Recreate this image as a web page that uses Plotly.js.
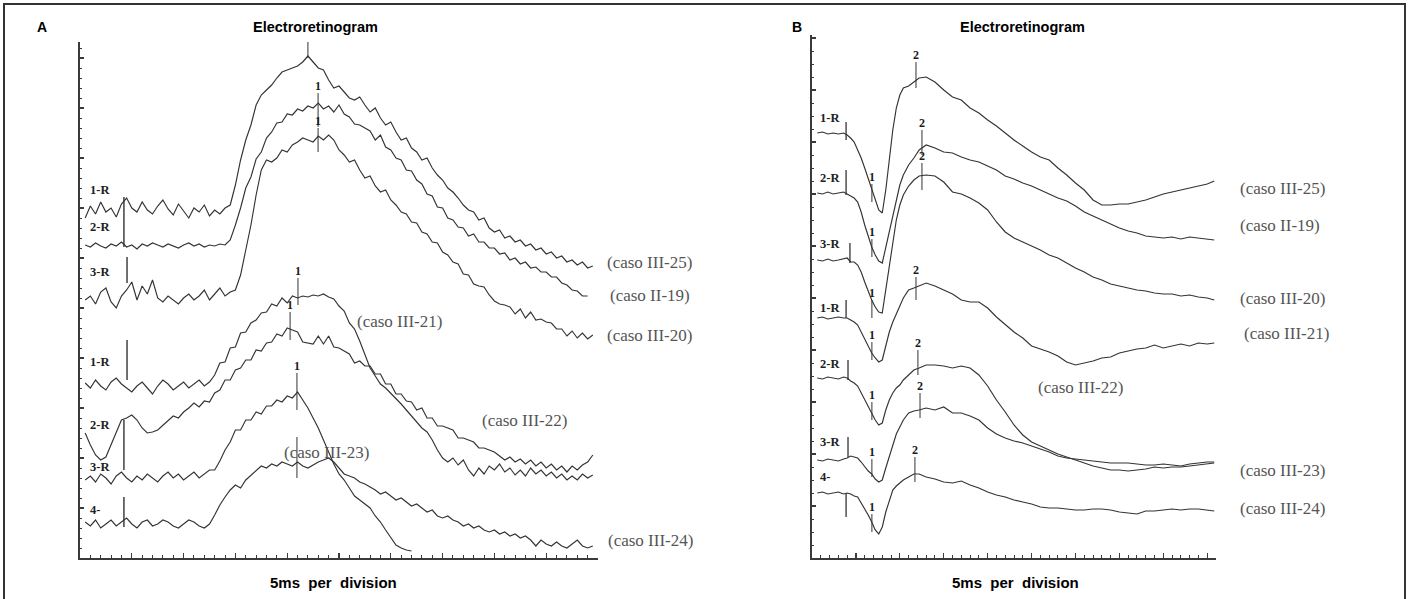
<!DOCTYPE html>
<html><head><meta charset="utf-8">
<script src="https://cdn.plot.ly/plotly-3.0.1.min.js"></script>
<style>html,body{margin:0;padding:0;background:#fff}#chart{width:1409px;height:599px}</style>
</head><body><div id="chart"></div>
<script>
// ---------- Panel A : time (ms), 5 ms per division ----------
const tA = [2.5,5,7.5,10,12.5,15,17.5,20,22.5,25,27.5,30,32.5,35,37.5,40,42.5,45,47.5,50,52.5,55,57.5,60,62.5,65,67.5,70,72.5,75,77.5,80,82.5,85,87.5,90,92.5,95,97.5,100,102.5,105,107.5,110,112.5,115,117.5,120,122.5,125,127.5,130,132.5,135,137.5,140,142.5,145,147.5,150,152.5,155,157.5,160,162.5,165,167.5,170,172.5,175,177.5,180,182.5,185,187.5,190,192.5,195,197.5,200,202.5,205,207.5,210,212.5,215,217.5,220,222.5,225,227.5,230,232.5,235,237.5,240,242.5,245,247.5];

const a_III25 = [340,352,344,356,346,350,341,354,360,350,346,356,348,344,352,358,349,343,354,347,340,350,346,353,342,348,344,350,
 353,373,398,418,433,453,463,468,473,480,486,488,490,492,496,502,496,490,488,478,470,472,466,460,458,461,453,446,450,440,433,436,426,418,420,410,406,398,400,390,383,378,370,366,360,353,348,346,338,340,330,326,328,320,322,316,318,312,314,308,310,304,306,300,302,296,298,293,296,290,292];
const a_II19 = [313,311,315,312,310,314,312,316,311,313,309,314,312,315,313,311,314,312,310,313,315,312,314,311,313,312,314,313,
 318,333,350,370,381,399,406,420,426,435,436,444,443,449,447,452,450,455,449,452,446,453,444,441,434,433,430,427,418,423,411,408,400,398,388,387,378,374,364,362,351,350,340,338,331,330,322,324,316,316,310,310,304,305,298,300,294,296,290,291,286,286,281,281,275,273,268,267,262,262];
const a_III20 = [258,262,254,266,270,256,250,262,268,276,258,272,264,278,260,256,262,258,254,260,264,258,262,268,258,264,270,262,266,268,
 283,308,333,363,388,398,396,400,408,406,413,416,420,418,416,422,418,423,418,408,403,396,398,388,380,382,372,366,368,358,353,346,344,336,335,326,324,316,315,306,303,296,294,284,283,274,272,271,263,257,254,253,251,244,249,240,246,238,239,236,235,229,229,222,227,220,225,219,223];
const a_III21 = [175,170,178,172,168,176,180,174,170,166,172,176,170,164,172,178,174,168,172,176,170,174,178,172,176,
 183,195,196,210,211,225,226,235,238,245,246,254,252,260,255,262,260,262,261,263,262,264,261,259,252,247,235,229,217,204,190,182,174,170,165,160,154,148,142,136,130,126,118,108,100,96,100,93,98,88,82,90,84,92,88,94,86,90,83,88,82,90,84,88,82,86,80,84,78,82,78,84,80,83];
const a_III22 = [125,113,103,98,101,113,126,138,140,143,138,130,125,126,128,133,138,142,140,146,
 150,155,151,157,156,165,168,178,178,188,190,198,198,208,207,215,216,224,222,230,228,226,216,215,214,222,214,222,211,210,207,204,195,197,192,192,184,184,174,174,164,164,157,156,148,150,140,140,132,132,130,128,120,120,118,116,110,110,108,106,102,98,101,96,99,94,98,92,96,90,94,88,92,86,92,88,93,96,103];
const a_III23 = [78,82,76,84,80,74,82,86,80,76,82,78,84,80,76,82,86,80,84,78,82,86,80,84,88,
 88,97,108,116,128,128,138,138,146,144,152,152,158,156,162,160,166,158,150,140,130,118,106,94,84,78,70,62,58,54,50,42,36,28,20,13,10,8,7];
const a_III24 = [36,32,38,30,34,38,32,36,40,34,30,36,38,32,34,38,36,32,30,34,38,36,32,30,34,
 43,53,61,68,73,70,78,83,88,92,90,94,92,96,94,92,96,92,90,93,96,98,100,96,90,84,82,80,76,74,71,68,64,66,62,58,60,56,52,54,50,46,48,42,40,42,38,36,32,34,30,32,28,26,28,24,26,22,24,20,22,18,12,18,14,12,16,12,10,14,18,12,10,12];

// stimulus marks A (time, low, high)
const stimA_t  = [21.2, 22.7, 22.7, 21.2, 21.2];
const stimA_lo = [311, 275, 178, 88, 31];
const stimA_hi = [361, 301, 218, 138, 61];
// peak marks A
const peakA_t   = [110, 114.9, 114.9, 105.2, 101.4, 104.7, 104.7];
const peakA_lo  = [500, 431, 406, 253, 218, 148, 80];
const peakA_hi  = [516, 465, 430, 280, 246, 185, 121];
const peakA_lab = ['', '1', '1', '1', '1', '1', ''];

// ---------- Panel B ----------
const tB = [3,6,9,12,15,18,20,22,24,26,28,30,32,34,36,38,40,42,44,46,48,50,52,55,58,61,65,70,75,80,85,90,95,100,105,110,115,120,125,130,135,140,145,150,155,160,165,170,175,180,185,190,195,200,205,210,215,220,225,229];

const b_III25 = [425,426,424,425,424,425,423,420,416,408,400,390,380,370,358,348,345,368,398,428,450,463,470,472,476,480,481,476,468,461,458,450,445,438,432,425,418,412,406,401,398,390,383,375,368,358,353,353,354,354,356,358,361,364,366,368,370,372,374,377];
const b_II19  = [365,364,366,364,365,366,364,362,360,356,346,333,321,311,303,297,295,310,326,343,358,373,383,393,400,408,413,410,406,405,401,398,396,392,388,382,379,375,372,368,364,360,357,352,346,342,338,334,330,327,325,322,321,320,321,319,321,320,319,318];
const b_III20 = [298,297,299,297,298,299,300,296,296,293,286,276,266,258,251,246,245,268,293,318,338,353,363,372,378,382,383,382,376,366,364,360,355,348,336,326,320,316,312,308,303,300,295,290,286,281,278,274,272,270,268,267,265,264,264,262,263,261,260,258];
const b_III21 = [240,241,239,240,241,240,240,238,236,233,226,218,211,205,200,196,198,213,226,236,245,252,260,268,270,272,275,272,268,264,258,256,256,250,241,233,226,220,212,209,206,202,196,193,195,197,200,201,205,207,209,210,213,210,212,214,212,215,214,215];
const b_III22 = [180,179,181,180,179,181,180,177,175,172,165,158,151,144,138,133,135,148,158,165,170,173,178,183,188,190,193,193,192,190,192,190,183,172,158,146,133,123,116,112,108,104,101,98,95,92,90,88,88,87,88,89,91,90,91,91,92,93,94,95];
const b_III23 = [98,97,99,98,97,99,100,102,101,100,96,91,87,84,79,76,78,90,102,114,124,131,138,145,147,148,150,148,151,145,145,142,138,130,124,120,117,115,112,109,106,102,100,99,98,97,96,95,95,95,94,93,93,94,93,92,94,95,96,96];
const b_III24 = [65,66,64,65,66,64,65,64,62,61,55,50,43,36,28,24,31,46,58,68,72,75,78,81,84,84,81,79,76,75,77,73,70,66,63,61,58,56,54,51,50,50,49,48,48,49,49,48,46,45,44,47,47,48,49,48,49,49,48,47];

const stimB_t  = [19.4, 19.4, 21.6, 19.4, 20.5, 20.5, 19.4];
const stimB_lo = [418, 363, 295, 240, 178, 101, 41];
const stimB_hi = [436, 388, 315, 258, 198, 121, 65];
const peakB_t   = [34.1,34.1,34.1,34.1,34.1,34.1,34.1, 59.2,62.6,62.6,59.2,60.3,61.5,58.6];
const peakB_lo  = [356,301,240,198,138,81,26, 470,403,368,258,183,140,76];
const peakB_hi  = [374,319,258,216,156,99,44, 496,428,395,281,208,165,101];
const peakB_lab = ['1','1','1','1','1','1','1','2','2','2','2','2','2','2'];

const rowLabels = ['1-R','2-R','3-R','1-R','2-R','3-R','4-'];
const casoA = ['(caso III-25)','(caso II-19)','(caso III-20)','(caso III-21)','(caso III-22)','(caso III-23)','(caso III-24)'];
const casoB = ['(caso III-25)','(caso II-19)','(caso III-20)','(caso III-21)','(caso III-22)','(caso III-23)','(caso III-24)'];

// ---------- drawing ----------
const W = 1409, H = 599;
const TR = '#333';
function line(x, y, xa, ya){
  return {type:'scatter', mode:'lines', x:x, y:y, xaxis:xa, yaxis:ya,
    line:{color:TR, width:1.15}, hoverinfo:'skip', showlegend:false, cliponaxis:false};
}
function segs(t, lo, hi, xa, ya, w){
  const x=[], y=[];
  t.forEach((v,i)=>{x.push(v,v,null); y.push(lo[i],hi[i],null);});
  return {type:'scatter', mode:'lines', x:x, y:y, xaxis:xa, yaxis:ya,
    line:{color:TR, width:w||1.1}, hoverinfo:'skip', showlegend:false, cliponaxis:false};
}
function labs(t, hi, txt, xa, ya){
  return {type:'scatter', mode:'text', x:t, y:hi, text:txt, xaxis:xa, yaxis:ya,
    textposition:'top center', textfont:{family:'Liberation Serif', size:12, color:'#1a1a1a', weight:'bold'},
    hoverinfo:'skip', showlegend:false, cliponaxis:false};
}

const data = [];
[a_III25,a_II19,a_III20,a_III21,a_III22,a_III23,a_III24].forEach(s=>data.push(line(tA, s, 'x', 'y')));
data.push(segs(stimA_t, stimA_lo, stimA_hi, 'x', 'y', 1.4));
data.push(segs(peakA_t, peakA_lo, peakA_hi, 'x', 'y', 1));
data.push(labs(peakA_t, peakA_hi, peakA_lab, 'x', 'y'));
[b_III25,b_II19,b_III20,b_III21,b_III22,b_III23,b_III24].forEach(s=>data.push(line(tB, s, 'x2', 'y2')));
data.push(segs(stimB_t, stimB_lo, stimB_hi, 'x2', 'y2', 1.3));
data.push(segs(peakB_t, peakB_lo, peakB_hi, 'x2', 'y2', 1));
data.push(labs(peakB_t, peakB_hi, peakB_lab, 'x2', 'y2'));

const AX = '#3a3a3a';
function xax(dom, rng, yref){
  return {domain:dom, range:rng, anchor:yref, showline:true, linecolor:AX, linewidth:1.6,
    ticks:'inside', ticklen:5, tickwidth:1.2, tickcolor:AX, dtick:25, tick0:0,
    minor:{dtick:5, ticklen:3, ticks:'inside', tickcolor:AX, tickwidth:1},
    showticklabels:false, showgrid:false, zeroline:false, fixedrange:true};
}
function yax(dom, rng, xref, dt, mdt){
  return {domain:dom, range:rng, anchor:xref, showline:true, linecolor:AX, linewidth:1.6,
    ticks:'inside', ticklen:4, tickwidth:1.1, tickcolor:AX, dtick:dt, tick0:0,
    minor:{dtick:mdt, ticklen:2, ticks:'inside', tickcolor:AX, tickwidth:1},
    showticklabels:false, showgrid:false, zeroline:false, fixedrange:true};
}

const ann = [];
function paperText(txt, x, y, size, anchor, fam, col){
  ann.push({text:txt, xref:'paper', yref:'paper', x:x/W, y:1-y/H, showarrow:false,
    xanchor:anchor||'center', yanchor:'middle',
    font:{family:fam||'Liberation Sans, Arial, sans-serif', size:size, color:col||'#000'}});
}
paperText('<b>A</b>', 42, 27, 14);
paperText('<b>Electroretinogram</b>', 315, 27, 14.5);
paperText('<b>5ms  per  division</b>', 333, 582, 15);
paperText('<b>B</b>', 797, 27, 14);
paperText('<b>Electroretinogram</b>', 1022, 27, 14.5);
paperText('<b>5ms  per  division</b>', 1015, 582, 15);

// row labels (left of each trace)
const rowA_y = [368,331,286,196,133,91,48];
const rowB_y = [440,380,314,250,194,116,81];
rowLabels.forEach((s,i)=>{
  ann.push({text:'<b>'+s+'</b>', xref:'x', yref:'y', x:4.0, y:rowA_y[i], showarrow:false, xanchor:'left', yanchor:'middle',
    font:{family:'Liberation Serif', size:12.5, color:'#222'}});
  ann.push({text:'<b>'+s+'</b>', xref:'x2', yref:'y2', x:3.5, y:rowB_y[i], showarrow:false, xanchor:'left', yanchor:'middle',
    font:{family:'Liberation Serif', size:12.5, color:'#222'}});
});
// case labels (pixel placement of the text)
const casoA_px = [[605,262],[608,295],[605,335],[355,321],[480,420],[282,452],[606,540]];
const casoB_px = [[1238,188],[1238,225],[1238,298],[1242,333],[1036,387],[1238,470],[1238,508]];
casoA.forEach((s,i)=>paperText(s, casoA_px[i][0], casoA_px[i][1], 17, 'left', 'Liberation Serif', '#555'));
casoB.forEach((s,i)=>paperText(s, casoB_px[i][0], casoB_px[i][1], 17, 'left', 'Liberation Serif', '#555'));

const layout = {
  width:W, height:H, margin:{l:0,r:0,t:0,b:0}, paper_bgcolor:'#fff', plot_bgcolor:'rgba(0,0,0,0)',
  showlegend:false,
  xaxis: xax([80/W, 598/W], [0,250], 'y'),
  yaxis: yax([1-558/H, 1-42/H], [0,516], 'x', 50, 10),
  xaxis2: xax([812/W, 1216/W], [0,230], 'y2'),
  yaxis2: yax([1-558/H, 1-35/H], [0,523], 'x2', 52, 13),
  annotations: ann,
  shapes: [{type:'rect', xref:'paper', yref:'paper', x0:4/W, x1:1405/W, y0:-0.1, y1:1-4/H,
    line:{color:'#333', width:2}, fillcolor:'rgba(0,0,0,0)'}]
};
Plotly.newPlot('chart', data, layout, {staticPlot:true, displayModeBar:false});
</script></body></html>
